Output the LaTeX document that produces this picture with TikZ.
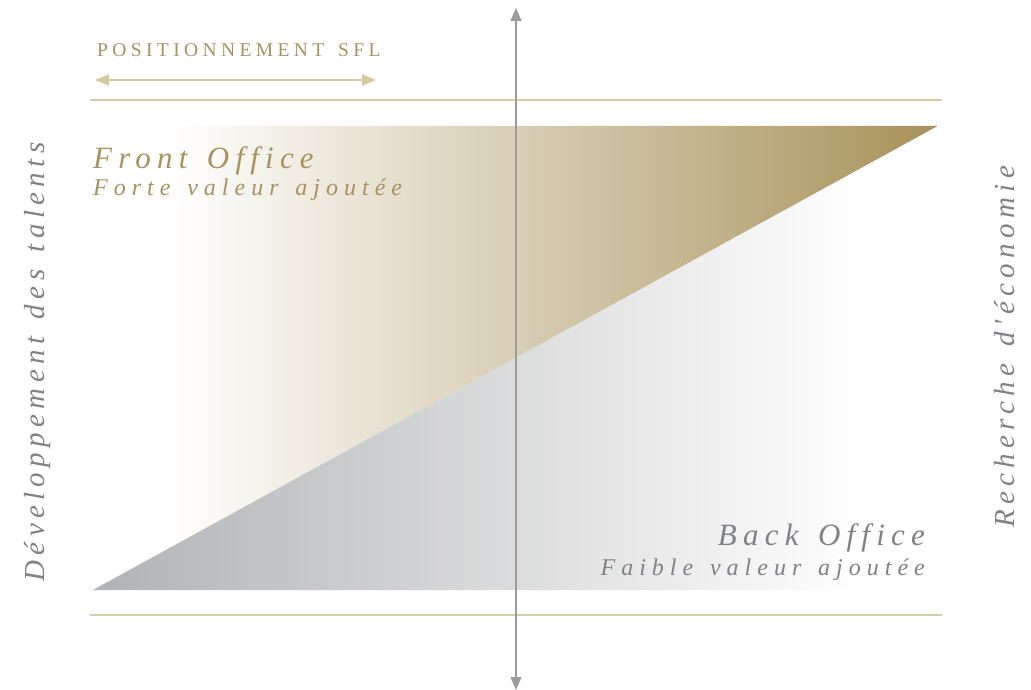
\documentclass[tikz,border=0pt]{standalone}
\usepackage{fontspec}
\setmainfont{Liberation Serif}
\newfontfamily\titlefont[LetterSpace=20,WordSpace=1.4]{Liberation Serif}
\newfontfamily\subfont[LetterSpace=25,WordSpace=1.4]{Liberation Serif}
\newfontfamily\sidefont[LetterSpace=18.5,WordSpace=1.4]{Liberation Serif}
\newfontfamily\capsfont[LetterSpace=22.5,WordSpace=1.5]{Liberation Serif}
\usetikzlibrary{arrows.meta}

\definecolor{goldline}{HTML}{D8CBA9}
\definecolor{goldarrow}{HTML}{D6C7A2}
\definecolor{goldtext}{HTML}{A8935F}
\definecolor{golddark}{HTML}{A8925A}
\definecolor{greydark}{HTML}{B1B2B4}
\definecolor{greytext}{HTML}{808286}
\definecolor{axisgrey}{HTML}{9C9C9C}

% left-to-right fades; the filled path spans 25bp..75bp of the shading
\pgfdeclarehorizontalshading{goldfade}{100bp}{color(0bp)=(white); color(29.5bp)=(white); color(75bp)=(golddark); color(100bp)=(golddark)}
\pgfdeclarehorizontalshading{greyfade}{100bp}{color(0bp)=(greydark); color(25bp)=(greydark); color(70.5bp)=(white); color(100bp)=(white)}

\tikzset{
  rule/.style={draw=goldline, line width=1.2pt},
  axis/.style={draw=axisgrey, line width=1.4pt, {Triangle[length=13pt,width=11pt]}-{Triangle[length=13pt,width=11pt]}},
  span/.style={draw=goldarrow, line width=1.6pt, {Triangle[length=14pt,width=11pt]}-{Triangle[length=14pt,width=11pt]}},
  title/.style={inner sep=0pt, font=\titlefont\itshape\fontsize{31}{31}\selectfont},
  sub/.style={inner sep=0pt, font=\subfont\itshape\fontsize{24}{24}\selectfont},
  side/.style={inner sep=0pt, font=\sidefont\itshape\fontsize{29}{29}\selectfont, text=greytext, rotate=90},
}

\begin{document}
\begin{tikzpicture}[x=1pt,y=-1pt]
\useasboundingbox (0,0) rectangle (1031,690);

% band: gold upper triangle, grey lower triangle
\shade[shading=goldfade] (93,126) -- (938,126) -- (93,590) -- cycle;
\shade[shading=greyfade] (93,590) -- (938,126) -- (938,590) -- cycle;

% horizontal rules
\coordinate (r1a) at (90,100);  \coordinate (r1b) at (942,100);
\coordinate (r2a) at (90,615);  \coordinate (r2b) at (942,615);
\draw[rule] (r1a) -- (r1b);
\draw[rule] (r2a) -- (r2b);

% vertical axis
\coordinate (ytop) at (516,8);
\coordinate (ybot) at (516,690);
\draw[axis] (ybot) -- (ytop);

% positioning span
\node[inner sep=0pt, anchor=base west, text=goldtext, font=\capsfont\fontsize{19.5}{19.5}\selectfont] (pos) at (97,57) {POSITIONNEMENT SFL};
\coordinate (sa) at (95,80);
\coordinate (sb) at (376,80);
\draw[span] (sa) -- (sb);

% labels
\node[title, anchor=base west, text=goldtext] (front) at (93,168) {Front Office};
\node[sub, anchor=base west, text=goldtext] (fronts) at (93,196) {Forte valeur ajoutée};
\node[title, anchor=base east, text=greytext] (back) at (925,545) {Back Office};
\node[sub, anchor=base east, text=greytext] (backs) at (925,575) {Faible valeur ajoutée};

\node[side, anchor=base] (left) at (44,362) {Développement des talents};
\node[side, anchor=base] (right) at (1014,347) {Recherche d'économie};
\end{tikzpicture}
\end{document}
